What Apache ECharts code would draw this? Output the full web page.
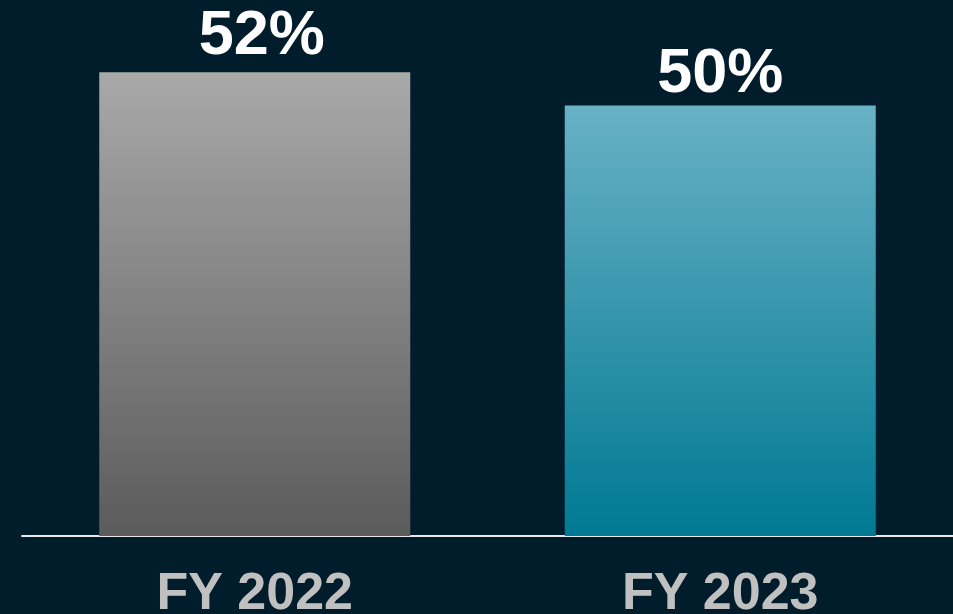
<!DOCTYPE html>
<html>
<head>
    <meta charset="UTF-8">
    <title>FY 2022 vs FY 2023</title>
    <script type="text/javascript" src="https://cdn.jsdelivr.net/npm/echarts@6/dist/echarts.min.js"></script>
</head>
<body style="margin: 0;padding: 0;background:#011c2a;overflow:hidden;">
    <div id="container" style="width:953px; height:614px;"></div>
    <script>
        // data
        var categories = ['FY 2022', 'FY 2023'];
        var values = [52, 50];
        var labels = ['52%', '50%'];

        var grad = function (top, bottom) {
            return new echarts.graphic.LinearGradient(0, 0, 0, 1, [
                { offset: 0, color: top },
                { offset: 1, color: bottom }
            ]);
        };
        var barColors = [grad('#a9a9a9', '#5b5b5b'), grad('#69b1c5', '#007993')];
        // first label sits a little right and up of its bar in the original
        var labelShift = [[7, -5], [0, 0]];

        var chart = echarts.init(document.getElementById('container'), null, { renderer: 'canvas' });

        chart.setOption({
            backgroundColor: '#011c2a',
            animation: false,
            grid: { left: 22, right: 0, top: 6, bottom: 78, outerBoundsMode: 'none' },
            xAxis: {
                type: 'category',
                data: categories,
                axisLine: { lineStyle: { color: '#e8e8e8', width: 2 } },
                axisTick: { show: false },
                axisLabel: {
                    color: '#c0c0c0',
                    fontFamily: 'Liberation Sans',
                    fontWeight: 'bold',
                    fontSize: 52,
                    margin: 33
                }
            },
            yAxis: {
                type: 'value',
                min: 24,
                max: 56,
                show: false,
                splitLine: { show: false }
            },
            series: [{
                type: 'bar',
                barWidth: 311,
                data: values.map(function (v, i) {
                    return {
                        value: v,
                        itemStyle: { color: barColors[i] },
                        label: { offset: labelShift[i] }
                    };
                }),
                label: {
                    show: true,
                    position: 'top',
                    distance: -1,
                    color: '#ffffff',
                    fontFamily: 'Liberation Sans',
                    fontWeight: 'bold',
                    fontSize: 63,
                    formatter: function (p) { return labels[p.dataIndex]; }
                }
            }]
        });
    </script>
</body>
</html>
